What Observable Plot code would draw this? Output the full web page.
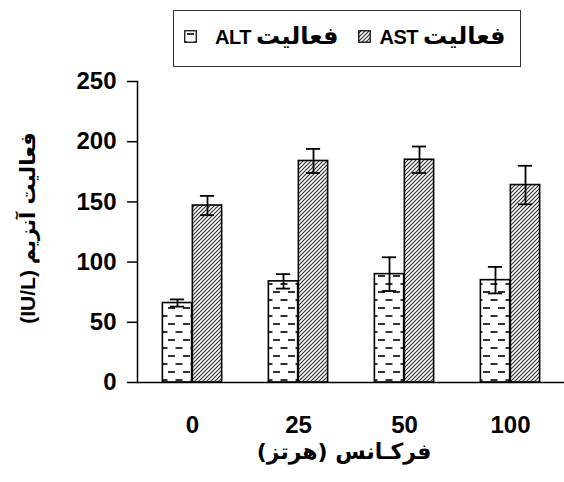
<!DOCTYPE html>
<html>
<head>
<meta charset="utf-8">
<script src="https://cdn.jsdelivr.net/npm/d3@7"></script>
<script src="https://cdn.jsdelivr.net/npm/@observablehq/plot@0.6"></script>
<style>
  html, body { margin: 0; padding: 0; background: #fff; }
  #wrap { position: relative; width: 564px; height: 482px; overflow: hidden;
          font-family: "Liberation Sans", Arial, "DejaVu Sans", sans-serif; font-weight: bold; color: #000; }
  #chart { position: absolute; left: 0; top: 0; }
  .abs { position: absolute; white-space: nowrap; }
  .ar { font-family: "DejaVu Sans", sans-serif; }
  #legend { position: absolute; left: 173px; top: 10px; width: 346px; height: 55px;
            border: 1.5px solid #333; box-sizing: content-box; background: #fff; }
</style>
</head>
<body>
<div id="wrap">
  <div id="chart"></div>
  <div id="legend"></div>
  <div id="ytitle" class="abs" dir="rtl"></div>
  <div id="xtitle" class="abs" dir="rtl"></div>
</div>
<script>
// ---- data ----
const freqs = ["0", "25", "50", "100"];
const series = ["ALT", "AST"];
const seriesWord = "فعالیت";
const altMean = [66, 84, 90, 85];
const altErr = [3, 6, 14, 11];
const astMean = [147, 184, 185, 164];
const astErr = [8, 10, 11, 16];
const yTicks = [0, 50, 100, 150, 200, 250];
const yTitleAr = "فعالیت آنزیم";
const yTitleUnit = "(IU/L)";
const xTitle = "فرکـانس (هرتز)";

const alt = freqs.map((f, i) => ({freq: f, mean: altMean[i], err: altErr[i]}));
const ast = freqs.map((f, i) => ({freq: f, mean: astMean[i], err: astErr[i]}));

const W = 564, ML = 137;
const half = (W - ML) / freqs.length / 2;   // half band width
const barW = 30, capHalf = 7.5;

const errMarks = (data, side) => {
  const dx = side * barW / 2;
  const inL = side < 0 ? half - barW + (barW / 2 - capHalf) : half + (barW / 2 - capHalf);
  const inR = side < 0 ? half + (barW / 2 - capHalf) : half - barW + (barW / 2 - capHalf);
  return [
    Plot.ruleX(data, {x: "freq", y1: d => d.mean - d.err, y2: d => d.mean + d.err, dx, stroke: "#000", strokeWidth: 1.8}),
    Plot.tickY(data, {x: "freq", y: d => d.mean + d.err, insetLeft: inL, insetRight: inR, stroke: "#000", strokeWidth: 1.8}),
    Plot.tickY(data, {x: "freq", y: d => d.mean - d.err, insetLeft: inL, insetRight: inR, stroke: "#000", strokeWidth: 1.8})
  ];
};

const chart = Plot.plot({
  width: W,
  height: 482,
  marginLeft: ML,
  marginRight: 0,
  marginTop: 81,
  marginBottom: 100,
  style: {fontFamily: "'Liberation Sans', Arial, sans-serif", fontSize: "24px", fontWeight: "bold", color: "#000", background: "transparent"},
  x: {domain: freqs, padding: 0, label: null, axis: "bottom", tickSize: 0, tickPadding: 33},
  y: {domain: [0, 250], ticks: yTicks, label: null, axis: "left", tickSize: 10, tickPadding: 11},
  marks: [
    Plot.barY(alt, {x: "freq", y: "mean", insetLeft: half - barW, insetRight: half, fill: "url(#altPat)", stroke: "#000", strokeWidth: 1.6}),
    Plot.barY(ast, {x: "freq", y: "mean", insetLeft: half, insetRight: half - barW, fill: "url(#astPat)", stroke: "#000", strokeWidth: 1.6}),
    ...errMarks(alt, -1),
    ...errMarks(ast, 1),
    Plot.ruleY([0], {stroke: "#000", strokeWidth: 1.5}),
    Plot.frame({anchor: "left", stroke: "#000", strokeWidth: 1.5})
  ]
});

// patterns
const defs = d3.select(chart).insert("defs", ":first-child");
const pa = defs.append("pattern").attr("id", "altPat").attr("patternUnits", "userSpaceOnUse")
  .attr("width", 15).attr("height", 16);
pa.append("rect").attr("width", 15).attr("height", 16).attr("fill", "#fff");
pa.append("path").attr("d", "M3,4h7M10.5,12h7M-4.5,12h7").attr("stroke", "#333").attr("stroke-width", 2);
const pb = defs.append("pattern").attr("id", "astPat").attr("patternUnits", "userSpaceOnUse")
  .attr("width", 4).attr("height", 4);
pb.append("rect").attr("width", 4).attr("height", 4).attr("fill", "#fff");
pb.append("path").attr("d", "M-1,1l2,-2M0,4l4,-4M3,5l2,-2").attr("stroke", "#333").attr("stroke-width", 1.2);
d3.select(chart).selectAll("g[aria-label='y-axis tick'] path").attr("stroke-width", 1.5);

document.getElementById("chart").appendChild(chart);

// legend
const legend = d3.select("#legend");
const items = [
  {pat: "url(#altPat)", code: series[0], swLeft: 184 - 174.5, textRight: 340},
  {pat: "url(#astPat)", code: series[1], swLeft: 358 - 174.5, textRight: 507}
];
items.forEach(it => {
  const sw = legend.append("svg").attr("width", 13).attr("height", 13)
    .style("position", "absolute").style("left", it.swLeft + "px").style("top", (30 - 11.5) + "px");
  sw.append("rect").attr("x", 0.75).attr("y", 0.75).attr("width", 11.5).attr("height", 11.5)
    .attr("fill", it.pat).attr("stroke", "#000").attr("stroke-width", 1.2);
  const s = legend.append("span").attr("dir", "rtl")
    .style("position", "absolute").style("white-space", "nowrap")
    .style("font-size", "20px").style("line-height", "24px")
    .style("right", (174.5 + 347 - it.textRight) + "px").style("top", (24 - 11.5) + "px");
  s.append("span").attr("class", "ar").style("font-size", "24px").style("margin-left", "5px").text(seriesWord);
  s.append("span").style("letter-spacing", "-0.5px").text(it.code);
});

const yt = document.getElementById("ytitle");
yt.innerHTML = "";
const yAr = document.createElement("span"); yAr.className = "ar"; yAr.style.fontSize = "21px"; yAr.textContent = yTitleAr;
const yUn = document.createElement("span"); yUn.textContent = " " + yTitleUnit;
yt.appendChild(yAr); yt.appendChild(yUn);
Object.assign(yt.style, {left: "28px", top: "228px", fontSize: "21px", lineHeight: "24px",
  transform: "translate(-50%, -50%) rotate(-90deg)"});
const xt = document.getElementById("xtitle");
xt.className = "abs ar";
xt.textContent = xTitle;
Object.assign(xt.style, {left: "344px", top: "452px", fontSize: "22px", lineHeight: "24px",
  transform: "translate(-50%, -50%)"});
</script>
</body>
</html>
